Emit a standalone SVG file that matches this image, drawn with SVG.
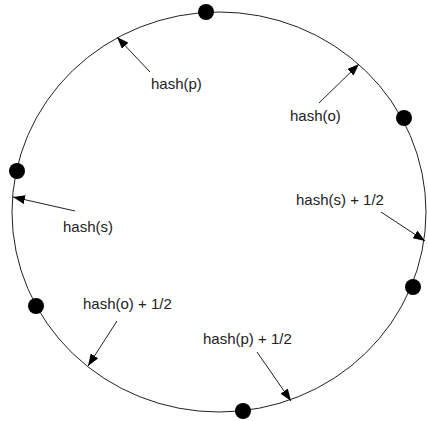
<svg xmlns="http://www.w3.org/2000/svg" width="428" height="421" viewBox="0 0 428 421">
<style>
.ring{fill:none;stroke:#222;stroke-width:1}
.dot{fill:#000}
.arr{stroke:#222;stroke-width:1;fill:none;marker-end:url(#ah)}
.lbl{font-family:"Liberation Sans",Arial,sans-serif;font-size:15px;fill:#222}
</style>
<defs>
<marker id="ah" markerUnits="userSpaceOnUse" markerWidth="13" markerHeight="9" refX="12" refY="4.5" orient="auto">
<path d="M0,0 L12,4.5 L0,9 z" fill="#000"/>
</marker>
</defs>
<rect width="428" height="421" fill="#fff"/>
<g id="ring"><ellipse class="ring" cx="219" cy="212" rx="207" ry="200"/></g>
<g id="nodes">
<circle id="n1" class="dot" cx="206" cy="12" r="8"/>
<circle id="n2" class="dot" cx="404" cy="118" r="8"/>
<circle id="n3" class="dot" cx="17" cy="171" r="8"/>
<circle id="n4" class="dot" cx="413" cy="287" r="8"/>
<circle id="n5" class="dot" cx="36" cy="306" r="8"/>
<circle id="n6" class="dot" cx="243" cy="411" r="8"/>
</g>
<g id="connectors">
<line class="arr" x1="150" y1="72" x2="117" y2="37"/>
<line class="arr" x1="319" y1="103" x2="359" y2="64"/>
<line class="arr" x1="75" y1="211" x2="13" y2="197"/>
<line class="arr" x1="381" y1="212" x2="425" y2="241"/>
<line class="arr" x1="117" y1="321" x2="88" y2="366"/>
<line class="arr" x1="257" y1="352" x2="291" y2="401"/>
</g>
<g id="labels">
<text class="lbl" x="151" y="89">hash(p)</text>
<text class="lbl" x="290" y="121">hash(o)</text>
<text class="lbl" x="63" y="232">hash(s)</text>
<text class="lbl" x="296" y="205">hash(s) + 1/2</text>
<text class="lbl" x="83" y="309">hash(o) + 1/2</text>
<text class="lbl" x="203" y="344">hash(p) + 1/2</text>
</g>
</svg>
